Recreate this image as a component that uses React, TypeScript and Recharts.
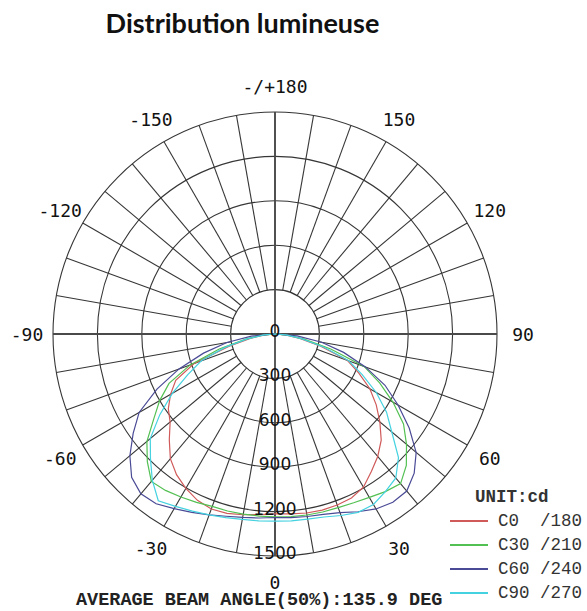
import React from 'react';
import {
  RadarChart,
  Radar,
  PolarGrid,
  PolarAngleAxis,
  PolarRadiusAxis,
  Legend,
} from 'recharts';

// gamma angles (deg from nadir) used by every half-plane below
const GAMMA = [0, 5, 10, 15, 20, 25, 30, 35, 40, 45, 50, 55, 60, 65, 70, 75, 80, 85, 90];

// intensities in cd
const C0 = [1215, 1220, 1228, 1232, 1230, 1222, 1195, 1135, 1080, 1015, 925, 835, 740, 625, 520, 320, 170, 70, 0];
const C180 = [1215, 1225, 1240, 1255, 1258, 1240, 1205, 1160, 1100, 1010, 925, 880, 815, 740, 580, 320, 170, 70, 0];
const C30 = [1235, 1238, 1242, 1245, 1248, 1258, 1275, 1300, 1320, 1255, 1160, 1060, 920, 780, 640, 390, 200, 80, 0];
const C210 = [1235, 1235, 1236, 1238, 1240, 1255, 1272, 1290, 1300, 1220, 1130, 1000, 900, 790, 610, 390, 200, 80, 0];
const C60 = [1240, 1245, 1252, 1262, 1285, 1325, 1365, 1388, 1385, 1330, 1245, 1107, 960, 820, 650, 480, 320, 150, 0];
const C240 = [1240, 1248, 1258, 1275, 1300, 1330, 1363, 1400, 1410, 1370, 1280, 1170, 1060, 880, 690, 500, 330, 160, 0];
const C90 = [1265, 1268, 1270, 1280, 1305, 1330, 1330, 1300, 1270, 1180, 1030, 920, 790, 650, 530, 340, 180, 75, 0];
const C270 = [1265, 1268, 1272, 1285, 1300, 1320, 1345, 1375, 1290, 1190, 1100, 950, 800, 650, 530, 350, 190, 75, 0];

// polar angle: 0 at the bottom, 90 right, 180 top, 270 (= -90) left
const ANGLES = Array.from({ length: 72 }, (_, i) => i * 5);
const LABEL_ANGLES = [0, 30, 60, 90, 120, 150, 180, 210, 240, 270, 300, 330];
const SPOKES = Array.from({ length: 36 }, (_, i) => i * 10);
const RINGS = [0, 300, 600, 900, 1200, 1500];
const OUTER_RINGS = [300, 600, 900, 1200, 1500];

const SERIES = [
  { key: 'c0', name: 'C0  /180', right: C0, left: C180, color: '#d05a5a' },
  { key: 'c30', name: 'C30 /210', right: C30, left: C210, color: '#52c052' },
  { key: 'c60', name: 'C60 /240', right: C60, left: C240, color: '#4a4a96' },
  { key: 'c90', name: 'C90 /270', right: C90, left: C270, color: '#44d2e0' },
];

const table = ANGLES.map((a) => {
  const row: any = { angle: a };
  SERIES.forEach((s) => {
    if (a <= 90) row[s.key] = s.right[GAMMA.indexOf(a)];
    else if (a >= 270) row[s.key] = s.left[GAMMA.indexOf(360 - a)];
    else row[s.key] = 0; // nothing above the horizon
  });
  return row;
});

const W = 587;
const H = 611;
const CX = 275;
const CY = 334;
const R = 222;
const MONO = '"Liberation Mono", "DejaVu Sans Mono", monospace';
const NO_MARGIN = { top: 0, right: 0, bottom: 0, left: 0 };

const angleLabel = (v: number) => {
  if (v === 180) return '-/+180';
  if (v > 180) return String(v - 360);
  return String(v);
};

const AngleTick = (props: any) => {
  const { x, y, payload } = props;
  return (
    <text
      x={x}
      y={y}
      textAnchor="middle"
      dominantBaseline="central"
      fontFamily='"DejaVu Sans Mono", monospace'
      fontSize={18}
      fill="#111"
    >
      {angleLabel(payload.value)}
    </text>
  );
};

const RingTick = (props: any) => {
  const { x, y, payload } = props;
  return (
    <text
      x={x}
      y={y - 3}
      textAnchor="middle"
      dominantBaseline="central"
      fontFamily='"DejaVu Sans", sans-serif'
      fontSize={17}
      fill="#111"
    >
      {payload.value}
    </text>
  );
};

const colorOf = (name: string) => SERIES.find((s) => s.name === name)?.color || '#333';

const renderLegend = (props: any) => (
  <div style={{ fontFamily: MONO, fontSize: 17.5, color: '#333' }}>
    <div style={{ fontWeight: 'bold', marginLeft: 25, height: 24, lineHeight: '24px' }}>UNIT:cd</div>
    {props.payload.map((p: any) => (
      <div key={p.value} style={{ display: 'flex', alignItems: 'center', height: 24 }}>
        <div style={{ width: 38, height: 1.5, background: colorOf(p.value), marginRight: 10 }} />
        <span style={{ whiteSpace: 'pre' }}>{p.value}</span>
      </div>
    ))}
  </div>
);

export default function App() {
  return (
    <div
      style={{
        position: 'absolute',
        left: 0,
        top: 0,
        width: W,
        height: H,
        background: '#fff',
        overflow: 'hidden',
      }}
    >
      <div
        style={{
          position: 'absolute',
          left: 0,
          top: 9,
          width: 485,
          textAlign: 'center',
          fontFamily: 'Lato, sans-serif',
          fontWeight: 'bold',
          fontSize: 27,
          lineHeight: '27px',
          color: '#111',
        }}
      >
        Distribution lumineuse
      </div>

      {/* grid: spokes start at the 300 cd ring */}
      <div style={{ position: 'absolute', left: 0, top: 0 }}>
        <RadarChart
          width={W}
          height={H}
          data={table}
          cx={CX}
          cy={CY}
          innerRadius={R * 0.2}
          outerRadius={R}
          startAngle={-90}
          endAngle={270}
          margin={NO_MARGIN}
        >
          <PolarGrid gridType="circle" polarAngles={SPOKES} stroke="#363636" strokeWidth={1.1} />
          <PolarAngleAxis dataKey="angle" type="number" domain={[0, 360]} tick={false} axisLine={false} tickLine={false} />
          <PolarRadiusAxis
            domain={[300, 1500]}
            ticks={OUTER_RINGS as any}
            tickCount={5}
            allowDataOverflow
            tick={false}
            axisLine={false}
            tickLine={false}
          />
        </RadarChart>
      </div>

      <div style={{ position: 'absolute', left: 0, top: 0 }}>
        <RadarChart
          width={W}
          height={H}
          data={table}
          cx={CX}
          cy={CY}
          outerRadius={R}
          startAngle={-90}
          endAngle={270}
          margin={NO_MARGIN}
        >
          <PolarGrid gridType="circle" polarAngles={[0, 90, 180, 270]} polarRadius={[0]} stroke="#4a4a4a" strokeWidth={1.8} />
          <PolarAngleAxis
            dataKey="angle"
            type="number"
            domain={[0, 360]}
            ticks={LABEL_ANGLES as any}
            tick={AngleTick}
            tickSize={26}
            axisLine={false}
            tickLine={false}
          />
          <PolarRadiusAxis
            angle={-90}
            domain={[0, 1500]}
            ticks={RINGS as any}
            tickCount={6}
            allowDataOverflow
            tick={RingTick}
            axisLine={false}
            tickLine={false}
          />
          {SERIES.map((s) => (
            <Radar
              key={s.key}
              dataKey={s.key}
              name={s.name}
              stroke={s.color}
              strokeWidth={1.2}
              fill="none"
              fillOpacity={0}
              dot={false}
              isAnimationActive={false}
            />
          ))}
          <Legend content={renderLegend} width={140} wrapperStyle={{ position: 'absolute', left: 450, top: 485 }} />
        </RadarChart>
      </div>

      <div
        style={{
          position: 'absolute',
          left: 76,
          top: 590,
          fontFamily: MONO,
          fontWeight: 'bold',
          fontSize: 18.5,
          lineHeight: '21px',
          color: '#222',
          whiteSpace: 'pre',
        }}
      >
        AVERAGE BEAM ANGLE(50%):135.9 DEG
      </div>
    </div>
  );
}
